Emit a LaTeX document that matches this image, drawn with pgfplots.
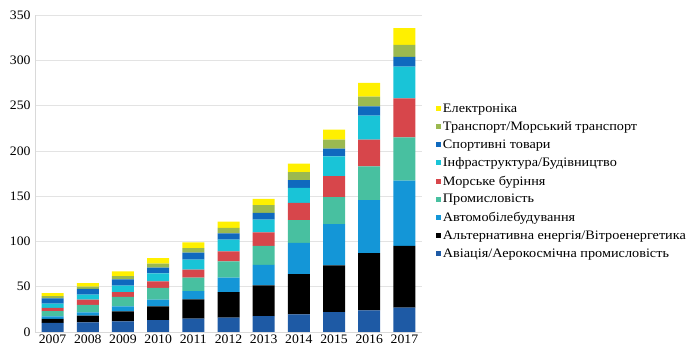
\documentclass[border=0pt]{standalone}
\usepackage{fontspec}
\setmainfont{Liberation Serif}
\newfontfamily\legfont[FakeStretch=1.10]{Liberation Serif}
\newfontfamily\tickfont[FakeStretch=1.06]{Liberation Serif}
\usepackage{pgfplots}
\usepackage{pgfplotstable}
\pgfplotsset{compat=1.18}
\definecolor{cAv}{RGB}{30,90,165}
\definecolor{cAlt}{RGB}{0,0,0}
\definecolor{cAuto}{RGB}{20,150,215}
\definecolor{cInd}{RGB}{72,192,160}
\definecolor{cMar}{RGB}{215,70,75}
\definecolor{cInf}{RGB}{25,196,215}
\definecolor{cSp}{RGB}{15,105,190}
\definecolor{cTr}{RGB}{155,185,80}
\definecolor{cEl}{RGB}{255,240,0}
\pgfplotstableread{
x av alt auto ind mar inf sp tr el
0 10 4.4 2.9 5.7 3.5 4.9 5.6 2.5 3.5
1 10.7 7.3 3.8 8.2 5.8 5.5 6.3 2.4 4
2 11.8 11.1 5.5 10.3 5.3 7.3 6.7 3.6 5.4
3 13 15.4 7.4 12.9 7.3 8.6 6.4 4.6 5.9
4 14.7 21.3 9 15 9 11 7.5 5.1 6.4
5 15.8 28.2 16 18 11 13 7 6 7
6 17.6 33.9 22.5 21 15 14 7.6 8.4 7
7 19.5 44.5 34.5 25 19.1 16.4 8.6 8.9 9.5
8 22 51.5 45.5 30 23 22 8.6 9.9 11
9 24 63 58.6 37.4 29.5 26.5 10 11 15
10 27 68 72 48 43 35 10.7 13.3 18.6
}\data
\begin{document}
\begin{tikzpicture}
\begin{axis}[
  at={(0,0)}, anchor=south west,
  scale only axis, width=387bp, height=317bp,
  ybar stacked, bar width=22bp,
  xmin=-0.5, xmax=10.5, ymin=0, ymax=350,
  xtick={0,1,2,3,4,5,6,7,8,9,10},
  xticklabels={2007,2008,2009,2010,2011,2012,2013,2014,2015,2016,2017},
  ytick={0,50,100,150,200,250,300,350},
  ymajorgrids, grid style={gray!22, line width=0.7pt},
  axis x line*=bottom, axis y line*=left,
  axis line style={gray!30, line width=0.7pt},
  major tick length=0pt,
  tick label style={font=\tickfont\fontsize{13}{13}\selectfont},
  xticklabel style={yshift=1bp},
  yticklabel style={xshift=-1bp},
  /pgf/number format/assume math mode=true,
  reverse legend,
  legend style={at={(1.035,0.727)}, anchor=north west, draw=none, fill=none,
    font=\legfont\fontsize{13}{14}\selectfont, row sep=3.8bp, cells={anchor=west},
    inner sep=0pt},
  legend image code/.code={\path[#1, draw=none] (0bp,-2.6bp) rectangle (5.2bp,2.6bp);},
]
\addplot[fill=cAv, draw=none] table[x=x,y=av]{\data};
\addplot[fill=cAlt, draw=none] table[x=x,y=alt]{\data};
\addplot[fill=cAuto, draw=none] table[x=x,y=auto]{\data};
\addplot[fill=cInd, draw=none] table[x=x,y=ind]{\data};
\addplot[fill=cMar, draw=none] table[x=x,y=mar]{\data};
\addplot[fill=cInf, draw=none] table[x=x,y=inf]{\data};
\addplot[fill=cSp, draw=none] table[x=x,y=sp]{\data};
\addplot[fill=cTr, draw=none] table[x=x,y=tr]{\data};
\addplot[fill=cEl, draw=none] table[x=x,y=el]{\data};
\legend{Авіація/Аерокосмічна промисловість,Альтернативна енергія/Вітроенергетика,Автомобілебудування,Промисловість,Морське буріння,Інфраструктура/Будівництво,Спортивні товари,Транспорт/Морський транспорт,Електроніка}
\end{axis}
\pgfresetboundingbox
\path[use as bounding box] (-35bp,-17bp) rectangle (651bp,332bp);
\end{tikzpicture}
\end{document}
